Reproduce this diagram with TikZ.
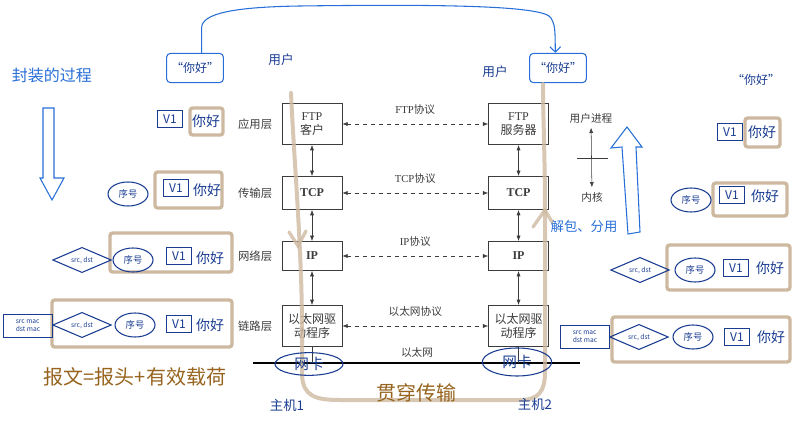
\documentclass[tikz,border=0pt]{standalone}
\usepackage{fontspec}
\setmainfont{Liberation Serif}
\newfontfamily\cjk{Noto Sans CJK SC}
\usetikzlibrary{positioning,arrows.meta,shapes.geometric}

\definecolor{ink}{RGB}{60,60,60}
\definecolor{hwblue}{RGB}{40,110,215}
\definecolor{hwnavy}{RGB}{25,60,145}
\definecolor{hwtan}{RGB}{205,185,160}
\definecolor{hwbrown}{RGB}{150,100,30}

\tikzset{
    layer/.style={draw=ink, fill=white, minimum width=45pt, align=center, text=ink,
        font=\small, inner sep=2pt},
    lbl/.style={text=ink, font=\cjk\fontsize{8.5}{10}\selectfont, inner sep=1pt},
    plbl/.style={text=ink, font=\footnotesize},
    proto/.style={dashed, ink, {Latex[length=4pt]}-{Latex[length=4pt]}},
    updown/.style={ink, {Latex[length=4pt]}-{Latex[length=4pt]}},
    hw/.style={text=hwnavy, font=\cjk},
    hello/.style={draw=hwblue, thick, rounded corners=3pt, text=hwnavy,
        font=\cjk\small, minimum width=39pt, minimum height=22pt},
    vbox/.style={draw=hwnavy, thick, text=hwnavy, font=\cjk\small, inner sep=1pt,
        minimum width=19pt, minimum height=13pt},
    word/.style={text=hwnavy, font=\cjk\fontsize{10.5}{12}\selectfont, inner sep=1pt},
    seq/.style={ellipse, draw=hwnavy, thick, text=hwnavy, font=\cjk\scriptsize,
        minimum width=30pt, minimum height=18pt, inner sep=0pt},
    addr/.style={diamond, draw=hwnavy, thick, text=hwnavy, font=\cjk\tiny, aspect=2.4,
        minimum width=44pt, minimum height=19pt, inner sep=0pt},
    mac/.style={draw=hwnavy, thick, text=hwnavy, font=\cjk\tiny, align=left,
        inner sep=1pt, minimum width=37pt, minimum height=17pt},
    wrap/.style={draw=hwtan, line width=2.5pt, rounded corners=2pt},
    nic/.style={ellipse, draw=hwnavy, thick, text=hwnavy, font=\cjk\fontsize{11}{13}\selectfont,
        minimum width=51pt, minimum height=17pt, inner sep=0pt},
}

\begin{document}
\begin{tikzpicture}[x=0.75pt, y=-0.75pt]
                \useasboundingbox (0,0) rectangle (800,424);

                % left packets
                \draw[wrap] (190,108) rectangle (223,135);
                \draw[wrap] (155,172) rectangle (222,208);
                \draw[wrap] (110,233) rectangle (232,272);
                \draw[wrap] (52,300) rectangle (232,347);

                % the two stacks
                \node[layer, minimum height=31pt] (fa) at (312,124) {FTP\\{\cjk 客户}};
                \node[layer, minimum height=25pt] (ta) at (312,193) {\textbf{TCP}};
                \node[layer, minimum height=22pt] (ia) at (312,256) {\textbf{IP}};
                \node[layer, minimum height=31pt] (ea) at (312,326) {{\cjk 以太网驱}\\{\cjk 动程序}};

                \node[layer, minimum height=31pt, right=109.5pt of fa] (fb) {FTP\\{\cjk 服务器}};
                \node[layer, minimum height=25pt, right=109.5pt of ta] (tb) {\textbf{TCP}};
                \node[layer, minimum height=22pt, right=109.5pt of ia] (ib) {\textbf{IP}};
                \node[layer, minimum height=31pt, right=109.5pt of ea] (eb) {{\cjk 以太网驱}\\{\cjk 动程序}};

                \node[lbl, left=6pt of fa] (la) {应用层};
                \node[lbl, left=6pt of ta] (lt) {传输层};
                \node[lbl, left=6pt of ia] (li) {网络层};
                \node[lbl, left=6pt of ea] (le) {链路层};

                \draw[proto] (fa) -- node[above=4pt, plbl] {FTP{\cjk 协议}} (fb);
                \draw[proto] (ta) -- node[above=4pt, plbl] {TCP{\cjk 协议}} (tb);
                \draw[proto] (ia) -- node[above=4pt, plbl] {IP{\cjk 协议}} (ib);
                \draw[proto] (ea) -- node[above=4pt, plbl] {\cjk 以太网协议} (eb);

                \draw[updown] (fa) -- (ta);
                \draw[updown] (ta) -- (ia);
                \draw[updown] (ia) -- (ea);
                \draw[updown] (fb) -- (tb);
                \draw[updown] (tb) -- (ib);
                \draw[updown] (ib) -- (eb);

                \coordinate (n1) at (253,363);
                \coordinate (n2) at (580,363);
                \draw[line width=1.3pt] (n1) -- (n2);
                \draw[ink] (ea.south) -- (ea.south |- n1);
                \draw[ink] (eb.south) -- (eb.south |- n1);
                \node[plbl, font=\cjk\footnotesize] (eth) at (417,352) {以太网};

                \node[plbl, font=\cjk\footnotesize] (up) at (591,118) {用户进程};
                \node[plbl, font=\cjk\footnotesize] (kn) at (592,197) {内核};
                \draw[updown] (up) -- (kn);
                \draw[ink] (577,158) -- (608,158);

                % handwritten notes
                \node[hw, text=hwblue, font=\cjk\fontsize{12}{14}\selectfont] (enc) at (52,75) {封装的过程};
                \draw[hwblue, thick] (43,108) -- (54,108) -- (54,178) -- (64,178) -- (52,200)
                    -- (40,178) -- (43,178) -- cycle;
                \node[hw, text=hwblue, font=\cjk\fontsize{10}{12}\selectfont] (dec) at (584,226) {解包、分用};
                \draw[hwblue, thick] (627,127) -- (642,147) -- (636,147) -- (640,232) -- (628,234)
                    -- (622,147) -- (611,148) -- cycle;

                \node[hello] (h1) at (195,68) {“你好”};
                \node[hello, minimum width=37pt] (h2) at (558,68) {“你好”};
                \draw[hwblue, thick, -{Straight Barb[length=4pt]}] ([xshift=5pt]h1.north) -- ++(0,-25)
                    .. controls +(0,-14) and (232,7) .. (300,6)
                    .. controls (450,4) and (545,6) .. (551,18)
                    .. controls (555,26) .. ([xshift=-2pt]h2.north);
                \node[hw, font=\cjk\fontsize{9.5}{11}\selectfont] (u1) at (281,60) {用户};
                \node[hw, font=\cjk\fontsize{9.5}{11}\selectfont] (u2) at (495,72) {用户};
                \node[hw, font=\cjk\small] (h3) at (756,80) {“你好”};

                \node[vbox] (v1a) at (170,119) {V1};
                \node[word] (w1a) at (206,121) {你好};
                \node[seq] (s2a) at (128,194) {序号};
                \node[vbox] (v2a) at (176,188) {V1};
                \node[word] (w2a) at (207,190) {你好};
                \node[addr] (d3a) at (82,260) {src, dst};
                \node[seq] (s3a) at (133,260) {序号};
                \node[vbox] (v3a) at (179,256) {V1};
                \node[word] (w3a) at (210,258) {你好};
                \node[mac] (m4a) at (28,326) {src mac\\dst mac};
                \node[addr] (d4a) at (82,325) {src, dst};
                \node[seq] (s4a) at (135,325) {序号};
                \node[vbox] (v4a) at (179,324) {V1};
                \node[word] (w4a) at (210,325) {你好};

                % right packets
                \draw[wrap] (745,118) rectangle (780,147);
                \draw[wrap] (713,183) rectangle (787,216);
                \draw[wrap] (667,245) rectangle (790,290);
                \draw[wrap] (612,317) rectangle (790,362);

                \node[vbox] (v1b) at (730,132) {V1};
                \node[word] (w1b) at (762,132) {你好};
                \node[seq] (s2b) at (691,200) {序号};
                \node[vbox] (v2b) at (732,195) {V1};
                \node[word] (w2b) at (765,196) {你好};
                \node[addr] (d3b) at (640,270) {src, dst};
                \node[seq] (s3b) at (695,270) {序号};
                \node[vbox] (v3b) at (736,268) {V1};
                \node[word] (w3b) at (770,268) {你好};
                \node[mac] (m4b) at (585,337) {src mac\\dst mac};
                \node[addr] (d4b) at (639,337) {src, dst};
                \node[seq] (s4b) at (693,337) {序号};
                \node[vbox] (v4b) at (737,337) {V1};
                \node[word] (w4b) at (771,337) {你好};

                % path through both hosts
                \draw[hwtan, line width=3pt, line cap=round, opacity=.8] (291,93)
                    .. controls (294,160) and (302,250) .. (302,330) -- (302,375)
                    .. controls (303,396) and (315,400) .. (340,400) -- (520,400)
                    .. controls (538,400) and (545,392) .. (545,372) -- (545,220)
                    .. controls (545,150) and (543,120) .. (543,84);
                \draw[hwtan, line width=2.5pt, line cap=round, opacity=.8] (289,232) -- (298,246) -- (306,231);
                \draw[hwtan, line width=2.5pt, line cap=round, opacity=.8] (533,227) -- (545,210) -- (552,222);

                \node[nic] (nic1) at (309,364) {网卡};
                \node[nic, minimum width=52pt, minimum height=21pt] (nic2) at (517,362) {网卡};
                \node[hw, font=\cjk\fontsize{10}{12}\selectfont] (pc1) at (287,405) {主机1};
                \node[hw, font=\cjk\fontsize{10}{12}\selectfont] (pc2) at (535,404) {主机2};
                % \node[hw] (pc3) at (417,420) {};
                \node[hw, text=hwbrown, font=\cjk\fontsize{15}{18}\selectfont] (thru) at (416,393) {贯穿传输};
                \node[hw, text=hwbrown, font=\cjk\fontsize{15}{18}\selectfont] (pkt) at (135,377) {报文=报头+有效载荷};
\end{tikzpicture}
\end{document}
